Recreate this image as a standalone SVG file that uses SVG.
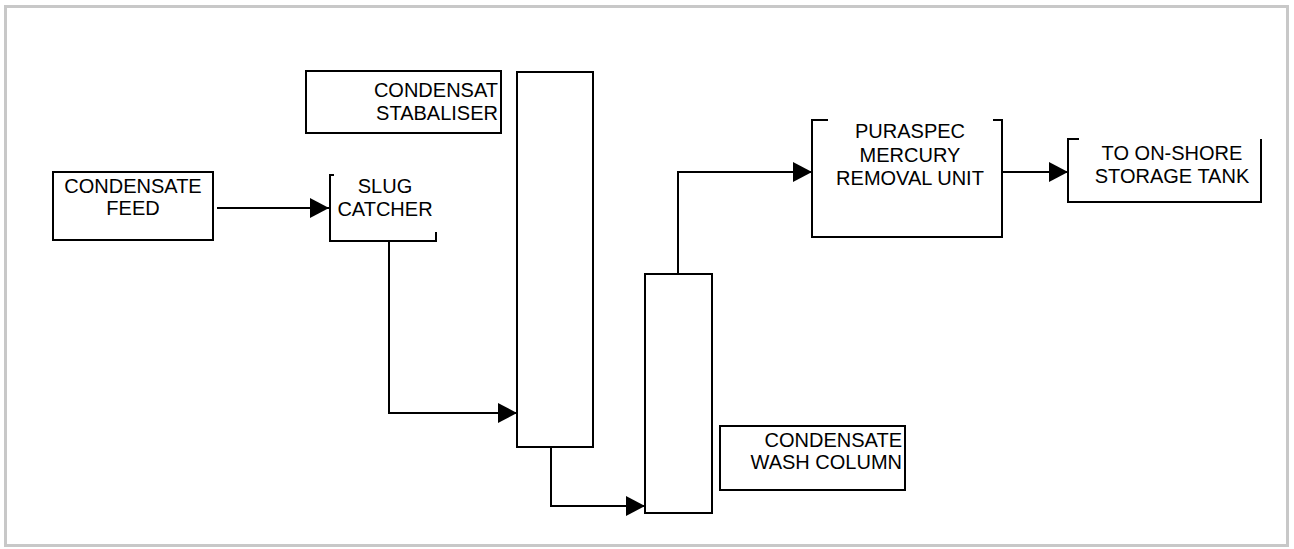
<svg xmlns="http://www.w3.org/2000/svg" width="1294" height="549" viewBox="0 0 1294 549">
<style>
.box{fill:none;stroke:#000;stroke-width:2}
.ln{fill:none;stroke:#000;stroke-width:2}
.t{font-family:"Liberation Sans",Arial,sans-serif;font-size:20px;fill:#000}
.c{text-anchor:middle}
.r{text-anchor:end}
</style>
<defs>
<marker id="ah" markerUnits="userSpaceOnUse" markerWidth="19" markerHeight="20" refX="19" refY="10" orient="auto">
<path d="M0,0 L19,10 L0,20 z" fill="#000"/>
</marker>
</defs>
<rect x="5.5" y="6.5" width="1282" height="539" fill="#fff" stroke="#c8c8c8" stroke-width="3"/>
<g id="condensate-feed">
<rect class="box" x="53" y="172" width="160" height="68"/>
<text class="t c" x="133" y="193">CONDENSATE</text>
<text class="t c" x="133" y="215">FEED</text>
</g>
<g id="slug-catcher">
<path class="box" d="M334,175 H330 V241 H436 V232"/>
<text class="t c" x="385" y="193">SLUG</text>
<text class="t c" x="385" y="216">CATCHER</text>
</g>
<g id="stabiliser-label">
<rect class="box" x="306" y="71" width="195" height="62"/>
<text class="t r" x="498" y="97">CONDENSAT</text>
<text class="t r" x="498" y="120">STABALISER</text>
</g>
<g id="stabiliser-column">
<rect class="box" x="517" y="72" width="76" height="375"/>
</g>
<g id="wash-column">
<rect class="box" x="645" y="274" width="67" height="239"/>
</g>
<g id="wash-label">
<rect class="box" x="720" y="426" width="185" height="64"/>
<text class="t r" x="902" y="447">CONDENSATE</text>
<text class="t r" x="902" y="469">WASH COLUMN</text>
</g>
<g id="puraspec">
<path class="box" d="M828,120 H812 V237 H1002 V120 H993"/>
<text class="t c" x="910" y="138">PURASPEC</text>
<text class="t c" x="910" y="162">MERCURY</text>
<text class="t c" x="910" y="185">REMOVAL UNIT</text>
</g>
<g id="onshore-tank">
<path class="box" d="M1079,139 H1068 V202 H1261 V139"/>
<text class="t c" x="1172" y="160">TO ON-SHORE</text>
<text class="t c" x="1172" y="183">STORAGE TANK</text>
</g>
<g id="connectors">
<path class="ln" d="M217,208 H329" marker-end="url(#ah)"/>
<path class="ln" d="M389,241 V413 H517" marker-end="url(#ah)"/>
<path class="ln" d="M551,447 V506 H645" marker-end="url(#ah)"/>
<path class="ln" d="M678,274 V172 H812" marker-end="url(#ah)"/>
<path class="ln" d="M1002,172 H1068" marker-end="url(#ah)"/>
</g>
</svg>
